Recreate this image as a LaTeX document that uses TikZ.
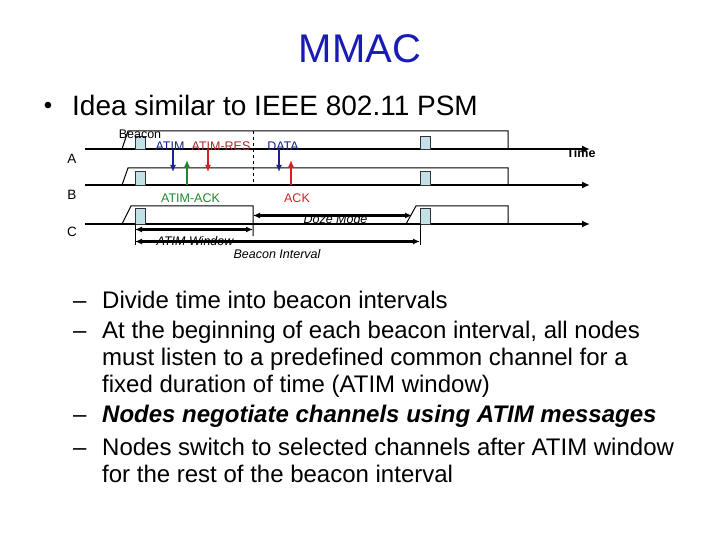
\documentclass[tikz,border=0pt]{standalone}
\usepackage{fontspec}
\setmainfont{Liberation Sans}
\usetikzlibrary{arrows.meta,positioning}
\definecolor{mblue}{HTML}{1A1AB4}
\definecolor{mnavy}{HTML}{18248C}
\definecolor{mred}{HTML}{D42020}
\definecolor{mdred}{HTML}{B02828}
\definecolor{mgreen}{HTML}{23862A}
\definecolor{mcyan}{HTML}{C2E0E6}
\tikzset{
  >={Latex[length=7pt,width=6pt]},
  mtime/.style={-{Latex[length=8pt,width=7pt]}, line width=2.4pt},
  mawake/.style={draw=black, line width=1pt},
  mbeacon/.style={draw=black!80, fill=mcyan, line width=0.8pt},
  msig/.style={->, line width=2.2pt},
  mspan/.style={<->, line width=2.2pt},
  mtick/.style={line width=1pt},
  mlbl/.style={font=\fontsize{12.5}{14}\selectfont, inner sep=0pt},
  mital/.style={inner sep=0pt, font=\fontsize{12.5}{14}\selectfont\itshape},
  mrow/.style={inner sep=0pt, font=\fontsize{13.5}{15}\selectfont},
  mbody/.style={anchor=base west, inner sep=0pt, font=\fontsize{24}{28}\selectfont},
}

\begin{document}
\begin{tikzpicture}[x=1pt,y=-1pt]
  \useasboundingbox (0,0) rectangle (720,540);

  % --- title ---
  \node[anchor=base, inner sep=0pt, text=mblue,
        font=\fontsize{40}{48}\selectfont] (title) at (360,63) {MMAC};
  \node[anchor=base, inner sep=0pt, font=\fontsize{24}{28}\selectfont]
    (dot) at (48,114) {•};
  \node[anchor=base west, inner sep=0pt, font=\fontsize{28}{32}\selectfont]
    (idea) at (72,116) {Idea similar to IEEE 802.11 PSM};

  % --- awake periods ---
  \draw[mawake] (122,149) -- (128,131) -- (508,131) -- (508,149);
  \draw[mawake] (122,185) -- (128,168) -- (508,168) -- (508,185);
  \draw[mawake] (122,224) -- (131,206) -- (253,206) -- (253,236);
  \draw[mawake] (406,224) -- (416,206) -- (508,206) -- (508,224);
  \draw[mawake, dashed] (253,131) -- (253,185);

  % --- time lines ---
  \foreach \r/\y/\dy in {A/149/9.5,B/185/9.5,C/224/7.5} {
    \node[mrow] (row\r) at (72,\y+\dy) {\r};
    \coordinate (s\r) at (85,\y);
    \coordinate (e\r) at (590,\y);
    \draw[mtime] (s\r) -- (e\r);
  }
  \node[inner sep=0pt, font=\fontsize{12.5}{14}\selectfont\bfseries]
    (time) at (581,153) {Time};

  % --- beacons ---
  \foreach \x in {135,420} {
    \draw[mbeacon] (\x,136) rectangle (\x+10,149);
    \draw[mbeacon] (\x,171) rectangle (\x+10,185);
    \draw[mbeacon] (\x,208) rectangle (\x+10,224);
  }
  \node[mlbl] (beacon) at (140,134) {Beacon};

  % --- ATIM handshake and data ---
  \coordinate (atim0) at (173,149);  \coordinate (atim1) at (173,172);
  \coordinate (ack0)  at (187,185);  \coordinate (ack1)  at (187,160);
  \coordinate (res0)  at (208,149);  \coordinate (res1)  at (208,172);
  \coordinate (dat0)  at (279,149);  \coordinate (dat1)  at (279,172);
  \coordinate (dack0) at (291,185);  \coordinate (dack1) at (291,160);
  \draw[msig, mnavy]  (atim0) -- (atim1);
  \draw[msig, mgreen] (ack0) -- (ack1);
  \draw[msig, mred]   (res0) -- (res1);
  \draw[msig, mnavy]  (dat0) -- (dat1);
  \draw[msig, mred]   (dack0) -- (dack1);
  \node[mlbl, text=mnavy]  (latim) at (170,146) {ATIM};
  \node[mlbl, text=mdred]  (lres)  at (221,146) {ATIM-RES};
  \node[mlbl, text=mnavy]  (ldat)  at (283,146) {DATA};
  \node[mlbl, text=mgreen] (lack)  at (190.5,198) {ATIM-ACK};
  \node[mlbl, text=mred]   (ldack) at (297,198) {ACK};

  % --- intervals ---
  \coordinate (dz0) at (253,215.5);  \coordinate (dz1) at (412,215.5);
  \coordinate (aw0) at (135,229.5);  \coordinate (aw1) at (253,229.5);
  \coordinate (bi0) at (135,241.5);  \coordinate (bi1) at (420,241.5);
  \draw[mtick] (135,224) -- (135,245);
  \draw[mtick] (420,224) -- (420,245);
  \draw[mspan] (dz0) -- (dz1);
  \draw[mspan] (aw0) -- (aw1);
  \draw[mspan] (bi0) -- (bi1);
  \node[mital] (doze)   at (335.5,219) {Doze Mode};
  \node[mital] (window) at (195,241) {ATIM Window};
  \node[mital] (interval) at (277,254) {Beacon Interval};

  % --- sub points ---
  \node[mbody] (d1) at (73,308) {–};
  \node[mbody] (p1) at (102,308) {Divide time into beacon intervals};
  \node[mbody] (d2) at (73,338) {–};
  \node[mbody] (p2a) at (102,338) {At the beginning of each beacon interval, all nodes};
  \node[mbody] (p2b) at (102,365) {must listen to a predefined common channel for a};
  \node[mbody] (p2c) at (102,392) {fixed duration of time (ATIM window)};
  \node[mbody] (d3) at (73,422) {–};
  \node[mbody, font=\fontsize{24}{28}\selectfont\bfseries\itshape]
    (p3) at (102,422) {Nodes negotiate channels using ATIM messages};
  \node[mbody] (d4) at (73,455) {–};
  \node[mbody] (p4a) at (102,455) {Nodes switch to selected channels after ATIM window};
  \node[mbody] (p4b) at (102,482) {for the rest of the beacon interval};

\end{tikzpicture}
\end{document}
